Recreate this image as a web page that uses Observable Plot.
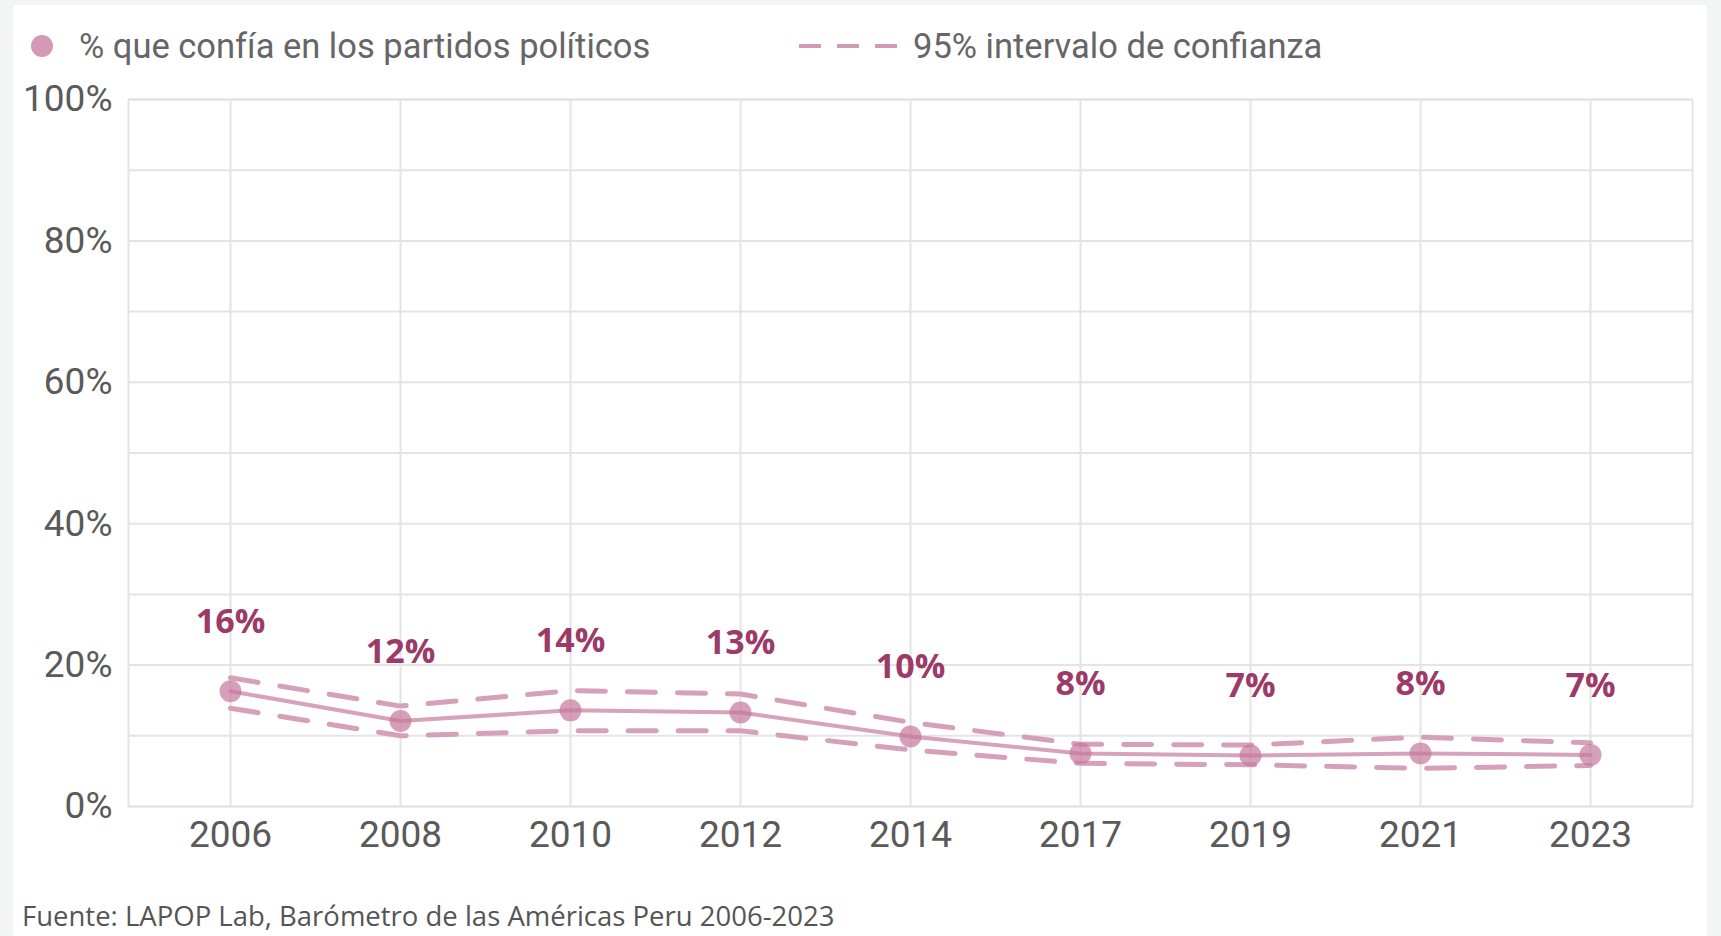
<!DOCTYPE html>
<html>
<head>
<meta charset="utf-8">
<script src="https://cdn.jsdelivr.net/npm/d3@7"></script>
<script src="https://cdn.jsdelivr.net/npm/@observablehq/plot@0.6"></script>
<style>
  html, body { margin: 0; padding: 0; background: #f3f5f5; width: 1721px; height: 936px; overflow: hidden; }
  #card { position: absolute; left: 13px; top: 5px; width: 1694px; height: 931px; background: #fff; }
  #chart { position: absolute; left: 0; top: 60px; }
  .legend { position: absolute; top: 26px; font-family: Roboto, sans-serif; font-size: 34.5px; color: #666; display: flex; align-items: center; white-space: nowrap; }
  .caption { position: absolute; left: 22px; top: 897px; font-family: "Open Sans", sans-serif; font-size: 27.5px; color: #555; white-space: nowrap; }
</style>
</head>
<body>
<div id="card"></div>
<div class="legend" style="left:30px;">
  <svg width="24" height="24" style="margin-right:25px"><circle cx="12" cy="12" r="11" fill="#d49ab5"></circle></svg>
  <span>% que confía en los partidos políticos</span>
</div>
<div class="legend" style="left:799px;">
  <svg width="98" height="10" style="margin-right:16px"><line x1="0" y1="5" x2="98" y2="5" stroke="#d29cb7" stroke-width="4" stroke-dasharray="22,16"></line></svg>
  <span>95% intervalo de confianza</span>
</div>
<div id="chart"></div>
<div class="caption">Fuente: LAPOP Lab, Barómetro de las Américas Peru 2006-2023</div>
<script>
const years  = ["2006","2008","2010","2012","2014","2017","2019","2021","2023"];
const values = [16.3, 12.1, 13.6, 13.3, 9.9, 7.5, 7.2, 7.5, 7.3];
const upper  = [18.2, 14.2, 16.4, 15.9, 11.9, 8.8, 8.7, 9.8, 9.0];
const lower  = [13.9, 10.0, 10.7, 10.7, 8.0, 6.1, 5.9, 5.4, 5.8];
const labels = ["16%","12%","14%","13%","10%","8%","7%","8%","7%"];
const yTicks = [0, 20, 40, 60, 80, 100];
const gridY  = [0, 10, 20, 30, 40, 50, 60, 70, 80, 90, 100];

const data = years.map((y, i) => ({year: y, value: values[i], upper: upper[i], lower: lower[i], label: labels[i]}));

const grid = "#e4e4e4";

const chart = Plot.plot({
  width: 1721,
  height: 800,
  marginLeft: 128,
  marginRight: 29,
  marginTop: 39,
  marginBottom: 54,
  style: {background: "transparent", fontFamily: "Roboto, sans-serif"},
  x: {type: "point", domain: years, padding: 0.585, label: null},
  y: {domain: [0, 100], label: null},
  marks: [
    Plot.ruleY(gridY, {stroke: grid, strokeWidth: 2}),
    Plot.ruleX(years, {stroke: grid, strokeWidth: 2}),
    Plot.frame({stroke: grid, strokeWidth: 2}),
    Plot.line(data, {x: "year", y: "upper", stroke: "#d6a0ba", strokeWidth: 5, strokeDasharray: "28,22"}),
    Plot.line(data, {x: "year", y: "lower", stroke: "#d6a0ba", strokeWidth: 5, strokeDasharray: "28,22"}),
    Plot.line(data, {x: "year", y: "value", stroke: "#d7a2bc", strokeWidth: 4}),
    Plot.dot(data, {x: "year", y: "value", r: 11, fill: "#c5789d", fillOpacity: 0.7}),
    Plot.text(data, {x: "year", y: "value", text: "label", dy: -69, fill: "#9c3a68", fontSize: 34, fontWeight: "bold", fontFamily: "'Open Sans', sans-serif"}),
    Plot.axisX({tickSize: 0, tickPadding: 14, fontSize: 37, color: "#5a5a5a", label: null}),
    Plot.axisY({ticks: yTicks, tickSize: 0, tickPadding: 16, fontSize: 37, color: "#5a5a5a", tickFormat: d => d + "%", label: null})
  ]
});
document.getElementById("chart").appendChild(chart);
</script>
</body>
</html>
